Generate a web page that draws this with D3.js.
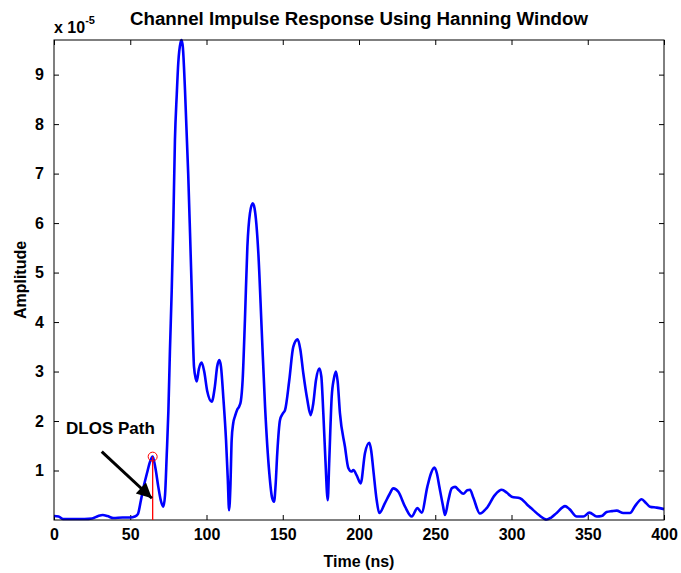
<!DOCTYPE html>
<html><head><meta charset="utf-8">
<script src="https://cdn.jsdelivr.net/npm/d3@7"></script>
<style>
body{margin:0;background:#fff;}
svg{display:block;}
text{font-family:"Liberation Sans",Arial,sans-serif;font-weight:bold;fill:#000;}
</style></head>
<body>
<svg id="chart" width="681" height="573"></svg>
<script>
const times = [0,3,6,10,15,20,25,29,32,35,39,45,50,53,55,57,59,61,63,64.7,66.5,68.4,70,71.7,72.8,73.9,75,76,77.2,78.2,79.3,80.5,81.5,83,83.7,84.5,85.9,88,89.2,90.3,91.8,93,93.6,95,96.8,98.5,100.5,103.4,105.5,107,108.4,109.5,111,112.8,114,114.8,115.7,116.5,117.5,118.7,120,121.5,122.5,123.7,125.2,126.8,128.5,130.3,131.5,134,136.2,138.4,141.2,143,144.3,145.3,146.4,148.2,150,151.5,154.3,156.9,159.8,161.5,163.5,166,168.3,170,171.8,174,175.3,176.6,178,179.5,180.5,182.1,183.5,184.9,186,187.5,190.8,193,195,196.3,198.5,201.1,203.9,206.8,208,209.4,211.6,213.3,217,220,222.5,225.8,230.2,234.6,238.3,241.1,244.8,247.3,249.4,251,252.7,255,256.4,258.6,260.8,263,265.5,268.4,271,272.8,275,279.3,283.7,289.2,293.6,297,300.1,305.6,310,314.3,318,323.1,326,329.6,335.1,338,342.8,347.1,351.1,355.9,359.1,362.4,366,369,373.3,377.7,381,385.4,388,390.8,395.2,400];
const amplitude = [0.08,0.07,0.02,0.02,0.02,0.02,0.03,0.08,0.1,0.08,0.04,0.05,0.05,0.07,0.12,0.4,0.7,0.95,1.18,1.28,1.05,0.67,0.4,0.27,0.5,1.3,2.2,3.4,4.65,5.93,7.68,8.6,9.24,9.65,9.7,9.55,8.69,7.0,5.8,4.65,3.1,2.85,2.8,3.05,3.18,3.0,2.6,2.39,2.7,3.1,3.23,3.1,2.49,1.62,0.8,0.2,0.7,1.62,1.95,2.1,2.22,2.3,2.4,2.83,4.04,5.52,6.2,6.4,6.3,5.39,3.84,2.29,0.94,0.45,0.37,0.7,1.35,2.02,2.15,2.22,2.83,3.5,3.65,3.45,2.96,2.45,2.12,2.35,2.83,3.06,2.9,2.16,1.2,0.4,1.2,2.49,2.85,3.0,2.8,2.16,1.48,1.05,0.98,1.01,0.9,0.74,1.35,1.56,1.4,1.01,0.4,0.14,0.34,0.52,0.64,0.57,0.27,0.07,0.24,0.15,0.67,0.95,1.06,0.95,0.67,0.3,0.1,0.4,0.64,0.67,0.6,0.53,0.6,0.61,0.45,0.13,0.24,0.51,0.61,0.55,0.47,0.44,0.32,0.2,0.1,0.01,0.05,0.14,0.28,0.22,0.07,0.07,0.15,0.07,0.08,0.16,0.18,0.19,0.14,0.14,0.28,0.42,0.35,0.27,0.25,0.22];
const xTicks = [0,50,100,150,200,250,300,350,400];
const yTicks = [1,2,3,4,5,6,7,8,9];
const dlosTime = 64.7, dlosAmp = 1.28;
const arrowFrom = [31.3, 1.38], arrowTo = [64.2, 0.44];

const svg = d3.select("#chart");
const L=54, R=664, T=40, B=520;
const x = d3.scaleLinear().domain([0,400]).range([L,R]);
const y = d3.scaleLinear().domain([0,9.7]).range([B,T]);

svg.append("rect").attr("width",681).attr("height",573).attr("fill","#fff");

const fs = 16;
svg.append("g").attr("transform",`translate(0,${B})`)
  .call(d3.axisBottom(x).tickValues(xTicks).tickSize(-5).tickPadding(9));
svg.append("g").attr("transform",`translate(${L},0)`)
  .call(d3.axisLeft(y).tickValues(yTicks).tickSize(-5).tickPadding(10));
svg.append("g").attr("transform",`translate(0,${T})`)
  .call(d3.axisTop(x).tickValues(xTicks).tickSize(-5).tickFormat(""));
svg.append("g").attr("transform",`translate(${R},0)`)
  .call(d3.axisRight(y).tickValues(yTicks).tickSize(-5).tickFormat(""));
svg.selectAll(".domain").remove();
svg.selectAll(".tick line").attr("stroke","#000").attr("stroke-width",1);
svg.selectAll(".tick text").attr("font-size",fs).attr("font-family","Liberation Sans, Arial, sans-serif").attr("font-weight","bold").attr("fill","#000");

const line = d3.line().x((d,i)=>x(times[i])).y(d=>y(d)).curve(d3.curveMonotoneX);
svg.append("path").datum(amplitude).attr("d",line)
  .attr("fill","none").attr("stroke","#0000ff").attr("stroke-width",2.6).attr("stroke-linejoin","round");

svg.append("rect").attr("x",L).attr("y",T).attr("width",R-L).attr("height",B-T)
  .attr("fill","none").attr("stroke","#000").attr("stroke-width",1);

svg.append("line").attr("x1",x(dlosTime)).attr("x2",x(dlosTime)).attr("y1",y(dlosAmp)).attr("y2",B)
  .attr("stroke","#ff0000").attr("stroke-width",1.3);
svg.append("circle").attr("cx",x(dlosTime)).attr("cy",y(dlosAmp)).attr("r",4.5)
  .attr("fill","none").attr("stroke","#ff0000").attr("stroke-width",1);
const defs = svg.append("defs");
defs.append("marker").attr("id","ah").attr("viewBox","0 0 10 10").attr("refX",10).attr("refY",5)
  .attr("markerWidth",6).attr("markerHeight",5).attr("markerUnits","strokeWidth").attr("orient","auto")
  .append("path").attr("d","M0,0 L10,5 L0,10 z").attr("fill","#000");
svg.append("line").attr("x1",x(arrowFrom[0])).attr("y1",y(arrowFrom[1]))
  .attr("x2",x(arrowTo[0])).attr("y2",y(arrowTo[1]))
  .attr("stroke","#000").attr("stroke-width",3).attr("marker-end","url(#ah)");
svg.append("text").attr("x",66).attr("y",434).attr("font-size",17).text("DLOS Path");

svg.append("text").attr("x",(L+R)/2).attr("y",25).attr("text-anchor","middle")
  .attr("font-size",17.5).attr("textLength",458).attr("lengthAdjust","spacingAndGlyphs")
  .text("Channel Impulse Response Using Hanning Window");
svg.append("text").attr("x",(L+R)/2).attr("y",567).attr("text-anchor","middle")
  .attr("font-size",16).text("Time (ns)");
svg.append("text").attr("transform",`translate(26,${(T+B)/2}) rotate(-90)`).attr("text-anchor","middle")
  .attr("font-size",16).text("Amplitude");
const ex = svg.append("text").attr("x",54).attr("y",33).attr("font-size",16);
ex.append("tspan").text("x 10");
ex.append("tspan").attr("dy",-9).attr("font-size",11).text("-5");
</script>
</body></html>
